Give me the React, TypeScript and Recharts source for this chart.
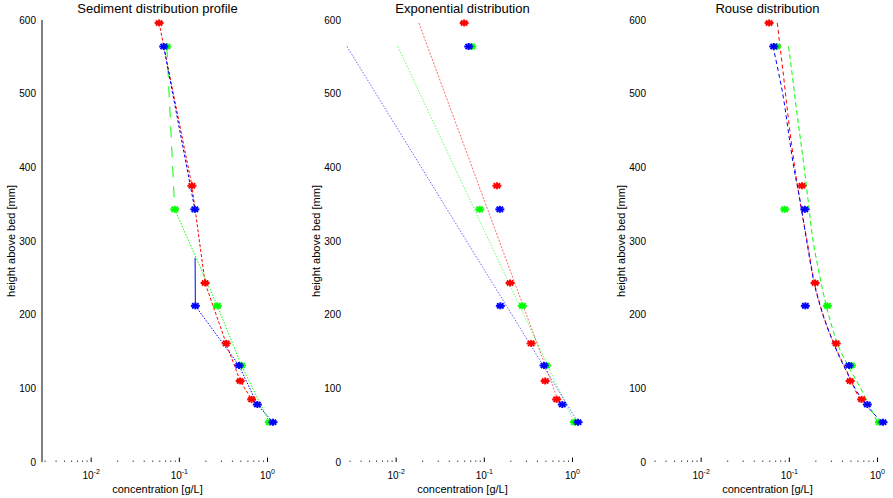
import React from 'react';
import { ComposedChart, Line, Scatter, XAxis, YAxis } from 'recharts';

const FONT = '"Liberation Sans", Arial, Helvetica, sans-serif';

// Measured suspended sediment concentration [g/L] against height above bed [mm]
const redHeight = [596, 375, 243, 161, 110, 85];
const redConc = [0.059, 0.139, 0.196, 0.34, 0.49, 0.661];
const greenHeight = [564, 343, 212, 131, 54];
const greenConc = [0.0721, 0.0887, 0.27, 0.507, 1.05];
const blueHeight = [564, 343, 212, 131, 78, 54];
const blueConc = [0.0665, 0.15, 0.152, 0.476, 0.767, 1.155];

// Exponential fits (straight lines in semi-log), end points of each profile
const expRedHeight = [596, 85];
const expRedConc = [0.0181, 0.68];
const expGreenHeight = [564, 54];
const expGreenConc = [0.01045, 1.05];
const expBlueHeight = [564, 54];
const expBlueConc = [0.00277, 1.155];

// Rouse fits
const rouseRedHeight = [596, 564, 532, 491, 446, 401, 342, 301, 243, 211, 161, 120, 100, 85];
const rouseRedConc = [0.073, 0.0785, 0.0845, 0.0923, 0.1023, 0.1148, 0.1374, 0.1585, 0.1928, 0.2265, 0.32, 0.462, 0.547, 0.631];
const rouseGreenHeight = [564, 537, 491, 446, 401, 356, 310, 261, 212, 161, 130, 102, 54];
const rouseGreenConc = [0.098, 0.105, 0.117, 0.131, 0.147, 0.163, 0.181, 0.214, 0.263, 0.351, 0.468, 0.631, 1.0];
const rouseBlueHeight = [564, 532, 491, 446, 401, 356, 301, 243, 211, 161, 120, 100, 78, 54];
const rouseBlueConc = [0.0653, 0.0745, 0.0867, 0.0982, 0.112, 0.132, 0.157, 0.191, 0.225, 0.318, 0.457, 0.556, 0.741, 1.13];

// Axis ticks
const yTicks = [0, 100, 200, 300, 400, 500, 600];
const xMajorTicks = [0.01, 0.1, 1];
const xMajorExponents = ['-2', '-1', '0'];

const RED = '#ff0000';
const GREEN = '#00ff00';
const BLUE = '#0000ff';

type Pt = { h: number; c: number };
const zip = (h: number[], c: number[]): Pt[] => h.map((v, i) => ({ h: v, c: c[i] }));

const red = zip(redHeight, redConc);
const green = zip(greenHeight, greenConc);
const blue = zip(blueHeight, blueConc);
const expRed = zip(expRedHeight, expRedConc);
const expGreen = zip(expGreenHeight, expGreenConc);
const expBlue = zip(expBlueHeight, expBlueConc);
const rouseRed = zip(rouseRedHeight, rouseRedConc);
const rouseGreen = zip(rouseGreenHeight, rouseGreenConc);
const rouseBlue = zip(rouseBlueHeight, rouseBlueConc);

// shared, tight x-limits over everything that is plotted
const allConc = [
  ...redConc, ...greenConc, ...blueConc,
  ...expRedConc, ...expGreenConc, ...expBlueConc,
  ...rouseRedConc, ...rouseGreenConc, ...rouseBlueConc,
];
const X_MIN = Math.min(...allConc);
const X_MAX = Math.max(...allConc);

// log-axis tick positions: decades plus 2..9 minor ticks inside the limits
const xTicks: number[] = [];
for (let d = -3; d <= 0; d++) {
  for (let k = 1; k <= 9; k++) {
    const v = Number((k * Math.pow(10, d)).toPrecision(6));
    if (v >= X_MIN && v <= X_MAX) xTicks.push(v);
  }
}
const isMajor = (v: number) => xMajorTicks.some((m) => Math.abs(m - v) < 1e-12);

const BottomTick = (props: any) => {
  const { x, y, payload } = props;
  const v = payload.value;
  const idx = xMajorTicks.findIndex((m) => Math.abs(m - v) < 1e-12);
  const major = idx >= 0;
  return (
    <g>
      <line x1={x} x2={x} y1={y} y2={y - (major ? 4.5 : 1.5)} stroke={major ? '#000' : '#444'} strokeWidth={1} />
      {major && (
        <text x={x} y={y + 17} textAnchor="middle" fontSize={10} fontFamily={FONT} fill="#000">
          10
          <tspan fontSize={7} dy={-5}>{xMajorExponents[idx]}</tspan>
        </text>
      )}
    </g>
  );
};

const TopTick = (props: any) => {
  const { x, y, payload } = props;
  const major = isMajor(payload.value);
  return <line x1={x} x2={x} y1={y} y2={y + (major ? 4.5 : 1.5)} stroke={major ? '#000' : '#444'} strokeWidth={1} />;
};

const starShape = (color: string) => (props: any) => {
  const { cx, cy } = props;
  if (cx == null || cy == null) return <g />;
  const rx = 4.5;
  const ry = 3.5;
  const dx = rx * 0.72;
  const dy = ry * 0.72;
  return (
    <g stroke={color} strokeWidth={2}>
      <line x1={cx - rx} y1={cy} x2={cx + rx} y2={cy} />
      <line x1={cx} y1={cy - ry} x2={cx} y2={cy + ry} />
      <line x1={cx - dx} y1={cy - dy} x2={cx + dx} y2={cy + dy} />
      <line x1={cx - dx} y1={cy + dy} x2={cx + dx} y2={cy - dy} />
    </g>
  );
};

type Curve = {
  key: string;
  data: Pt[];
  color: string;
  dash?: string;
  opacity?: number;
  smooth?: boolean;
};

type PanelProps = {
  left: number;
  title: string;
  curves: Curve[];
  leftLine: boolean;
  rightLine: boolean;
};

const Panel = ({ left, title, curves, leftLine, rightLine }: PanelProps) => (
  <div style={{ position: 'absolute', left, top: 0 }}>
    <ComposedChart width={283} height={498} margin={{ top: 19, right: 10, bottom: 0, left: 0 }}>
      <XAxis
        xAxisId="b"
        type="number"
        dataKey="c"
        scale="log"
        domain={[X_MIN, X_MAX]}
        ticks={xTicks}
        interval={0}
        tickSize={0}
        tickMargin={0}
        axisLine={false}
        tickLine={false}
        tick={BottomTick}
        height={36}
        label={{
          content: ({ viewBox }: any) => (
            <text x={viewBox.x + viewBox.width / 2} y={viewBox.y + 31} textAnchor="middle" fontSize={11} fontFamily={FONT} fill="#000">
              concentration [g/L]
            </text>
          ),
        }}
      />
      <XAxis
        xAxisId="t"
        orientation="top"
        type="number"
        dataKey="c"
        scale="log"
        domain={[X_MIN, X_MAX]}
        ticks={xTicks}
        interval={0}
        tickSize={0}
        tickMargin={0}
        axisLine={false}
        tickLine={false}
        tick={TopTick}
        height={1}
        label={{
          content: ({ viewBox }: any) => (
            <text x={viewBox.x + viewBox.width / 2} y={viewBox.y - 6.5} textAnchor="middle" fontSize={13} fontFamily={FONT} fill="#000">
              {title}
            </text>
          ),
        }}
      />
      <YAxis
        yAxisId="l"
        type="number"
        dataKey="h"
        domain={[0, 600]}
        ticks={yTicks}
        interval={0}
        width={42}
        tickSize={4}
        tickMargin={2}
        tickLine={false}
        axisLine={leftLine ? { stroke: '#000', strokeWidth: 1 } : false}
        tick={{ fontSize: 10, fontFamily: FONT, fill: '#000' }}
        label={{
          content: ({ viewBox }: any) => {
            const lx = viewBox.x + 15;
            const ly = viewBox.y + viewBox.height / 2;
            return (
              <text x={lx} y={ly} transform={`rotate(-90 ${lx} ${ly})`} textAnchor="middle" fontSize={11} fontFamily={FONT} fill="#000">
                height above bed [mm]
              </text>
            );
          },
        }}
      />
      {rightLine && (
        <YAxis
          yAxisId="r"
          orientation="right"
          type="number"
          domain={[0, 600]}
          width={0}
          tick={false}
          tickLine={false}
          axisLine={{ stroke: '#000', strokeWidth: 1 }}
        />
      )}
      {curves.map((s) => (
        <Line
          key={s.key}
          xAxisId="b"
          yAxisId="l"
          data={s.data}
          dataKey="h"
          type={s.smooth ? 'monotone' : 'linear'}
          stroke={s.color}
          strokeOpacity={s.opacity ?? 1}
          strokeWidth={1}
          strokeDasharray={s.dash}
          dot={false}
          activeDot={false}
          isAnimationActive={false}
        />
      ))}
      <Scatter xAxisId="b" yAxisId="l" data={red} fill={RED} shape={starShape(RED)} isAnimationActive={false} />
      <Scatter xAxisId="b" yAxisId="l" data={green} fill={GREEN} shape={starShape(GREEN)} isAnimationActive={false} />
      <Scatter xAxisId="b" yAxisId="l" data={blue} fill={BLUE} shape={starShape(BLUE)} isAnimationActive={false} />
    </ComposedChart>
  </div>
);

// profile panel: measured points joined segment by segment
const profileCurves: Curve[] = [
  { key: 'r', data: red, color: RED, dash: '3 2' },
  { key: 'g-up', data: green.slice(0, 2), color: GREEN, dash: '11 9' },
  { key: 'g-low', data: green.slice(1), color: GREEN, dash: '1.5 1.5' },
  { key: 'b-up', data: blue.slice(0, 2), color: BLUE, dash: '3 2' },
  { key: 'b-mid', data: [blue[2], blue[1]], color: BLUE, dash: '48 200' },
  { key: 'b-low', data: blue.slice(2), color: BLUE, dash: '1.5 1.5' },
];

const expCurves: Curve[] = [
  { key: 'er', data: expRed, color: RED, dash: '2 1.5', opacity: 0.6 },
  { key: 'eg', data: expGreen, color: GREEN, dash: '1.5 1.5', opacity: 0.6 },
  { key: 'eb', data: expBlue, color: BLUE, dash: '1.5 1.5', opacity: 0.6 },
];

const rouseCurves: Curve[] = [
  { key: 'rr', data: rouseRed, color: RED, dash: '4 3', smooth: true },
  { key: 'rg', data: rouseGreen, color: GREEN, dash: '5 3', smooth: true },
  { key: 'rb', data: rouseBlue, color: BLUE, dash: '4 3', smooth: true },
];

export default function App() {
  return (
    <div style={{ position: 'absolute', left: 0, top: 0, width: 893, height: 498, background: '#fff', overflow: 'hidden' }}>
      <Panel left={0} title="Sediment distribution profile" curves={profileCurves} leftLine rightLine={false} />
      <Panel left={305} title="Exponential distribution" curves={expCurves} leftLine={false} rightLine />
      <Panel left={610} title="Rouse distribution" curves={rouseCurves} leftLine={false} rightLine />
    </div>
  );
}
